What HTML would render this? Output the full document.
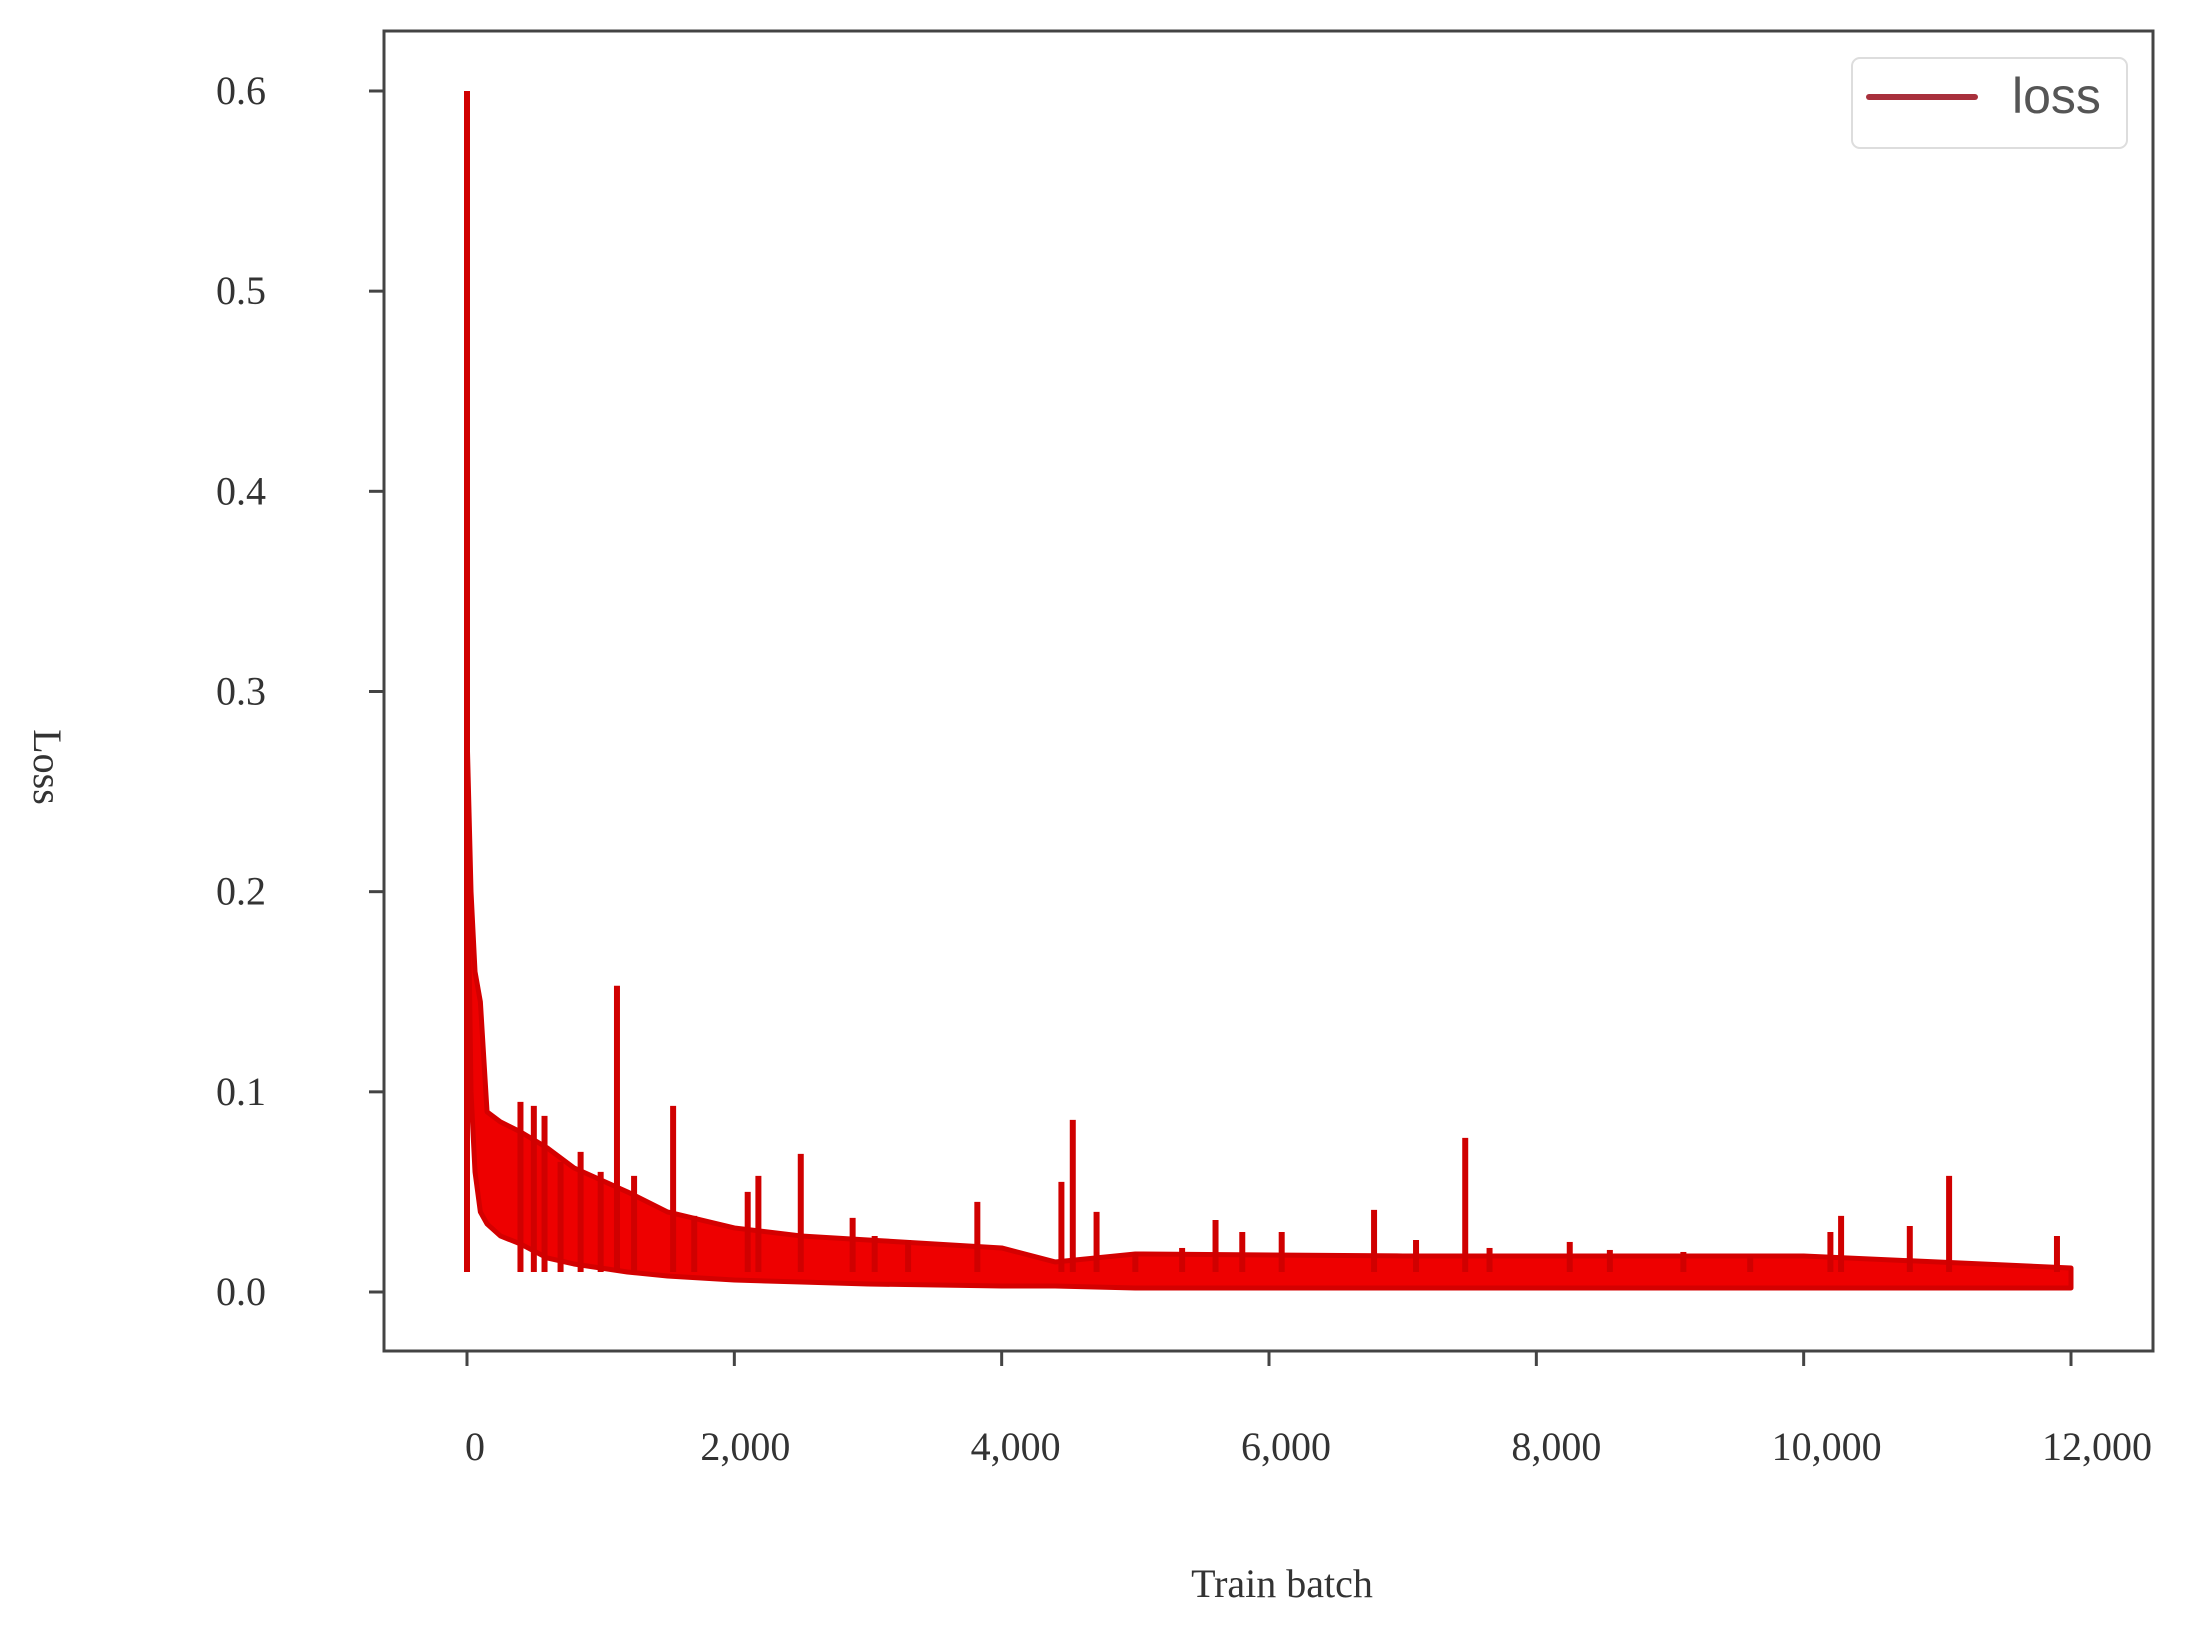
<!DOCTYPE html>
<html><head><meta charset="utf-8"><style>
html,body{margin:0;padding:0;background:#fff;}
svg{display:block;}
</style></head><body>
<svg width="2199" height="1634" viewBox="0 0 2199 1634" xmlns="http://www.w3.org/2000/svg">
<rect x="0" y="0" width="2199" height="1634" fill="#fff"/>
<g id="plot"></g>
<rect x="384" y="31" width="1769" height="1320" fill="none" stroke="#444" stroke-width="3"/>
<g id="axes"></g>
<text x="1282" y="1597" font-family="Liberation Serif, serif" font-size="40" fill="#333" text-anchor="middle">Train batch</text>
<text transform="translate(34,767) rotate(90)" font-family="Liberation Serif, serif" font-size="40" fill="#333" text-anchor="middle">Loss</text>
<g>
<rect x="1852" y="58" width="275" height="90" rx="8" fill="#fff" stroke="#ddd" stroke-width="2"/>
<line x1="1869" y1="97" x2="1975" y2="97" stroke="#a8303c" stroke-width="6" stroke-linecap="round"/>
<text x="2012" y="113" font-family="Liberation Sans, sans-serif" font-size="50" fill="#555">loss</text>
</g>
</svg>
<script>
const xTicks=[0,2000,4000,6000,8000,10000,12000];
const xTickLabels=["0","2,000","4,000","6,000","8,000","10,000","12,000"];
const yTicks=[0,0.1,0.2,0.3,0.4,0.5,0.6];
const yTickLabels=["0.0","0.1","0.2","0.3","0.4","0.5","0.6"];
const bandX=[0,30,60,100,150,250,400,600,800,1000,1200,1500,2000,2500,3000,4000,4400,5000,7000,10000,12000];
const bandUpper=[0.28,0.2,0.16,0.145,0.09,0.085,0.08,0.072,0.062,0.056,0.05,0.04,0.032,0.028,0.026,0.022,0.015,0.019,0.018,0.018,0.012];
const bandLower=[0.24,0.1,0.06,0.04,0.034,0.028,0.024,0.017,0.014,0.012,0.01,0.008,0.006,0.005,0.004,0.003,0.003,0.002,0.002,0.002,0.002];
const spikeX=[0,400,500,580,700,850,1000,1122,1250,1542,1700,2100,2180,2497,2885,3050,3300,3818,4447,4532,4710,5000,5350,5600,5800,6095,6786,7100,7468,7650,8250,8550,9100,9600,10200,10280,10794,11088,11895];
const spikeY=[0.6,0.095,0.093,0.088,0.065,0.07,0.06,0.153,0.058,0.093,0.038,0.05,0.058,0.069,0.037,0.028,0.026,0.045,0.055,0.086,0.04,0.02,0.022,0.036,0.03,0.03,0.041,0.026,0.077,0.022,0.025,0.021,0.02,0.018,0.03,0.038,0.033,0.058,0.028];
const NS="http://www.w3.org/2000/svg";
const xs=v=>467+v*(1604/12000);
const ys=v=>1292-v*2001.7;
const plot=document.getElementById('plot');
const axes=document.getElementById('axes');
function mk(tag,attrs,parent){const e=document.createElementNS(NS,tag);for(const k in attrs)e.setAttribute(k,attrs[k]);parent.appendChild(e);return e;}
let pts=bandX.map((x,i)=>xs(x)+','+ys(bandUpper[i]));
for(let i=bandX.length-1;i>=0;i--)pts.push(xs(bandX[i])+','+ys(bandLower[i]));
const band=mk('polygon',{points:pts.join(' '),fill:'#ee0000',stroke:'#d40000','stroke-width':5,'stroke-linejoin':'round'},plot);


spikeX.forEach((x,i)=>{
  const l=mk('line',{x1:xs(x),x2:xs(x),y1:ys(spikeY[i]),y2:ys(0.01),stroke:'#d00000','stroke-width':6},plot);
  
  
});
xTicks.forEach((t,i)=>{
  const l=mk('line',{x1:xs(t),x2:xs(t),y1:1351,y2:1366,stroke:'#444','stroke-width':3},axes);
  
  
  const tx=mk('text',{x:xs(t)+8+i*3,y:1460,'font-family':'Liberation Serif, serif','font-size':40,fill:'#333','text-anchor':'middle'},axes);
  tx.textContent=xTickLabels[i];
  
  
});
yTicks.forEach((t,i)=>{
  const l=mk('line',{x1:369,x2:384,y1:ys(t),y2:ys(t),stroke:'#444','stroke-width':3},axes);
  
  
  const tx=mk('text',{x:266,y:ys(t)+13,'font-family':'Liberation Serif, serif','font-size':40,fill:'#333','text-anchor':'end'},axes);
  tx.textContent=yTickLabels[i];
  
  
});
</script>
</body></html>
